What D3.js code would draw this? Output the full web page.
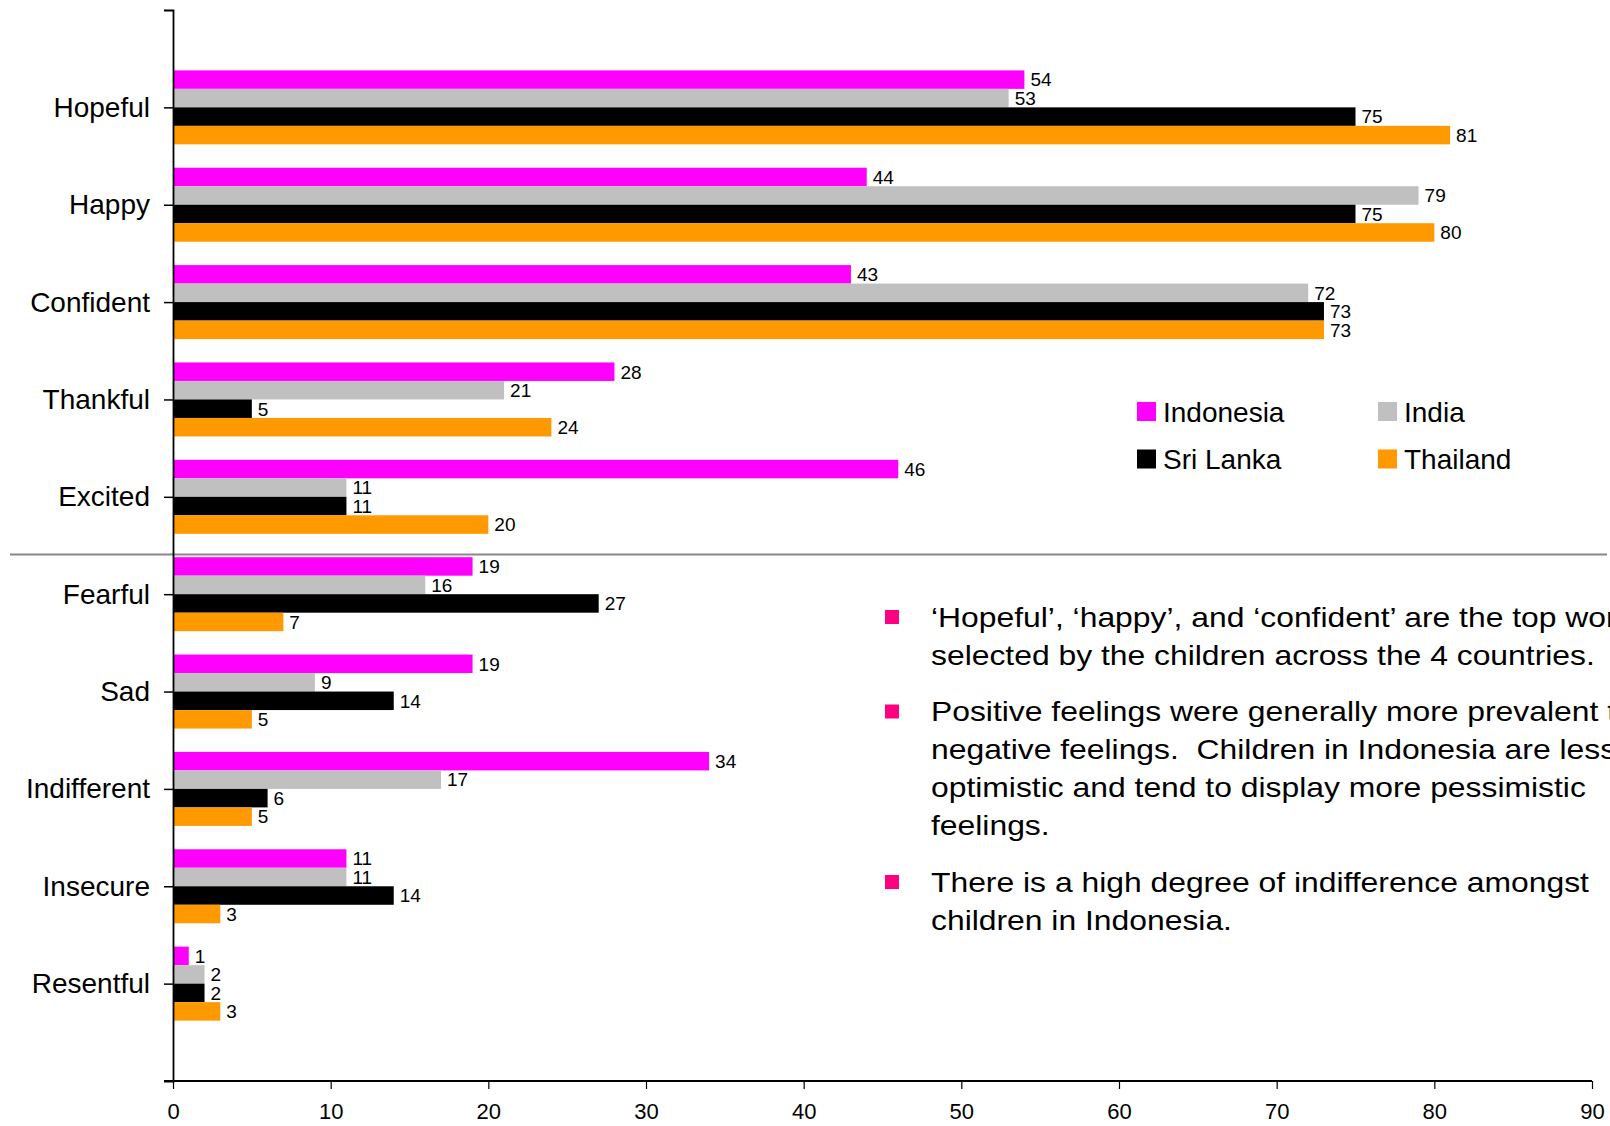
<!DOCTYPE html>
<html>
<head>
<meta charset="utf-8">
<script src="https://cdn.jsdelivr.net/npm/d3@7"></script>
<style>
  html, body { margin: 0; padding: 0; background: #fff; overflow: hidden; }
  svg { display: block; font-family: "Liberation Sans", Arial, sans-serif; }
</style>
</head>
<body>
<svg id="chart" width="1610" height="1126"></svg>
<script>
const categories = ["Hopeful", "Happy", "Confident", "Thankful", "Excited",
                    "Fearful", "Sad", "Indifferent", "Insecure", "Resentful"];
const seriesNames = ["Indonesia", "India", "Sri Lanka", "Thailand"];
const seriesColors = ["#FF00FF", "#C0C0C0", "#000000", "#FF9900"];
const indonesia = [54, 44, 43, 28, 46, 19, 19, 34, 11, 1];
const india     = [53, 79, 72, 21, 11, 16, 9, 17, 11, 2];
const sriLanka  = [75, 75, 73, 5, 11, 27, 14, 6, 14, 2];
const thailand  = [81, 80, 73, 24, 20, 7, 5, 5, 3, 3];
const xTicks = [0, 10, 20, 30, 40, 50, 60, 70, 80, 90];
const bullets = [
  ["\u2018Hopeful\u2019, \u2018happy\u2019, and \u2018confident\u2019 are the top words",
   "selected by the children across the 4 countries."],
  ["Positive feelings were generally more prevalent than",
   "negative feelings.  Children in Indonesia are less",
   "optimistic and tend to display more pessimistic",
   "feelings."],
  ["There is a high degree of indifference amongst",
   "children in Indonesia."]
];

const series = [indonesia, india, sriLanka, thailand];
const svg = d3.select("#chart");

const x = d3.scaleLinear().domain([0, 90]).range([173, 1592]);
const y = d3.scalePoint().domain(categories).range([10, 1081]).padding(1);
const barH = 18.5;
const inner = d3.scaleBand().domain(d3.range(4)).range([-2 * barH, 2 * barH]).padding(0);

// bars
const g = svg.append("g");
categories.forEach((cat, ci) => {
  series.forEach((vals, si) => {
    const y0 = y(cat) + inner(si);
    g.append("rect")
      .attr("x", x(0))
      .attr("y", y0)
      .attr("width", x(vals[ci]) - x(0))
      .attr("height", inner.bandwidth())
      .attr("fill", seriesColors[si]);
    g.append("text")
      .attr("x", x(vals[ci]) + 6)
      .attr("y", y0 + inner.bandwidth() / 2)
      .attr("dy", "0.36em")
      .attr("font-size", 19)
      .attr("fill", "#000")
      .text(vals[ci]);
  });
});

// separator line between positive and negative
const sepY = (y("Excited") + y("Fearful")) / 2 + 9;
svg.append("line")
  .attr("x1", 10).attr("x2", 1607)
  .attr("y1", sepY).attr("y2", sepY)
  .attr("stroke", "#888").attr("stroke-width", 2);

// y axis
const yAxis = svg.append("g")
  .attr("transform", `translate(${x(0)},0)`)
  .call(d3.axisLeft(y).tickSize(9).tickSizeOuter(9).tickPadding(14));
yAxis.select(".domain").attr("stroke", "#000").attr("stroke-width", 1.8);
yAxis.selectAll(".tick line").attr("stroke", "#000").attr("stroke-width", 1.5);
yAxis.selectAll(".tick text")
  .attr("font-size", 28)
  .attr("font-family", "Liberation Sans, Arial, sans-serif")
  .attr("fill", "#000");

// x axis
const xAxis = svg.append("g")
  .attr("transform", `translate(0,1081)`)
  .call(d3.axisBottom(x).tickValues(xTicks).tickSize(8).tickSizeOuter(0).tickPadding(14));
xAxis.select(".domain").attr("stroke", "#000").attr("stroke-width", 2)
  .attr("d", `M${x(0) - 9},0H${x(90)}`);
xAxis.selectAll(".tick line").attr("stroke", "#000").attr("stroke-width", 1.2);
xAxis.selectAll(".tick text")
  .attr("font-size", 22)
  .attr("font-family", "Liberation Sans, Arial, sans-serif")
  .attr("fill", "#000");

// legend
const legendPos = [[1137, 411.5], [1378, 411.5], [1137, 459], [1378, 459]];
seriesNames.forEach((name, i) => {
  const [lx, ly] = legendPos[i];
  svg.append("rect")
    .attr("x", lx).attr("y", ly - 9.5)
    .attr("width", 19).attr("height", 19)
    .attr("fill", seriesColors[i]);
  svg.append("text")
    .attr("x", lx + 26).attr("y", ly)
    .attr("dy", "0.36em")
    .attr("font-size", 28)
    .attr("fill", "#000")
    .text(name);
});

// bullet text
const lineH = 38;
const blockStarts = [617, 711.5, 882];
bullets.forEach((lines, bi) => {
  const by = blockStarts[bi];
  svg.append("rect")
    .attr("x", 885).attr("y", by - 7)
    .attr("width", 14).attr("height", 14)
    .attr("fill", "#FF0080");
  const tg = svg.append("g").attr("transform", `translate(931,0) scale(1.18,1)`);
  lines.forEach((ln, li) => {
    tg.append("text")
      .attr("x", 0).attr("y", by + li * lineH)
      .attr("dy", "0.36em")
      .attr("font-size", 27)
      .attr("fill", "#000")
      .style("white-space", "pre")
      .text(ln);
  });
});
</script>
</body>
</html>
